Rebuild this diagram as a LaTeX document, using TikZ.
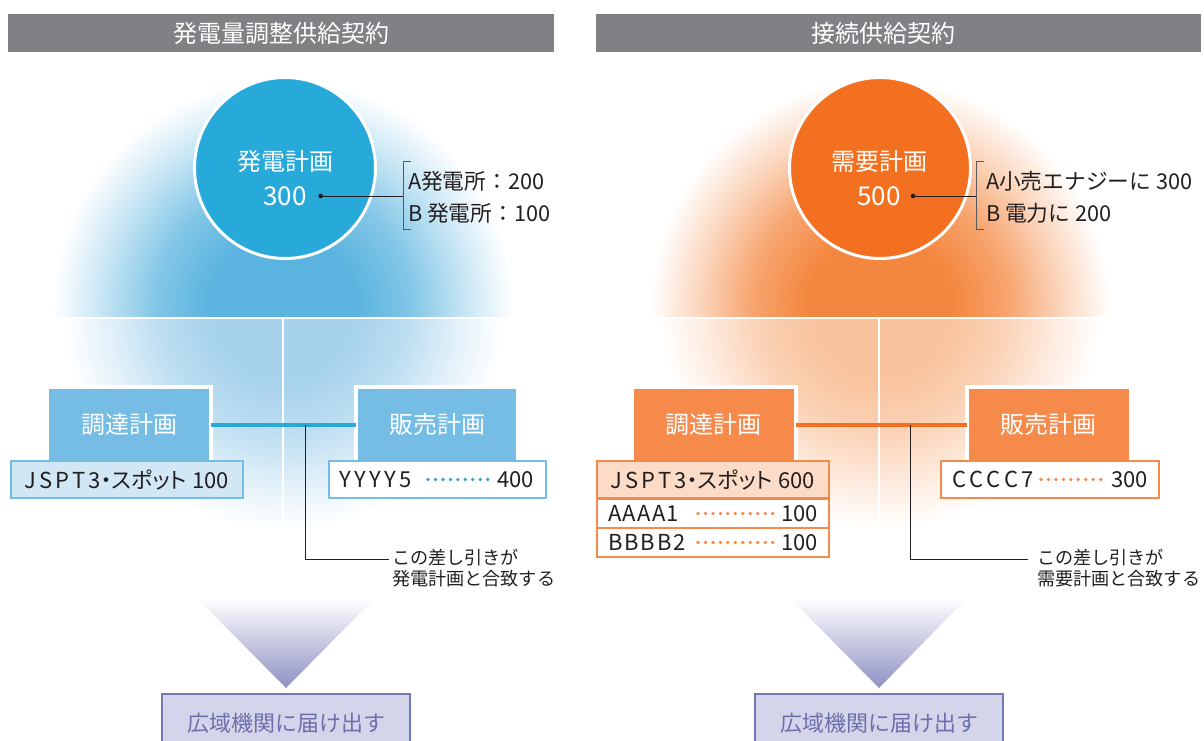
\documentclass[tikz,border=0pt]{standalone}
\usepackage{fontspec}
\setmainfont{Noto Sans CJK JP}
\newfontfamily\pfont[RawFeature=+palt]{Noto Sans CJK JP}
\usetikzlibrary{calc}
\definecolor{hdr}{HTML}{808184}
\definecolor{ink}{HTML}{231F20}
\definecolor{brk}{HTML}{58595B}
\definecolor{bcirc}{HTML}{27A9DA}
\definecolor{bbox}{HTML}{75BDE4}
\definecolor{blight}{HTML}{D2E7F5}
\definecolor{bline}{HTML}{29A9D9}
\definecolor{bglow}{HTML}{5AB4DF}
\definecolor{bglowl}{HTML}{A6D2EC}
\colorlet{bglowa}{bglow!75!white}
\colorlet{bglowb}{bglow!32!white}
\colorlet{bglowla}{bglowl!75!white}
\colorlet{bglowlb}{bglowl!32!white}
\definecolor{ocirc}{HTML}{F37021}
\definecolor{obox}{HTML}{F58A4B}
\definecolor{olight}{HTML}{FCDCC6}
\definecolor{oline}{HTML}{F37021}
\definecolor{oglow}{HTML}{F4873F}
\definecolor{oglowl}{HTML}{F9C39D}
\colorlet{oglowa}{oglow!75!white}
\colorlet{oglowb}{oglow!32!white}
\colorlet{oglowla}{oglowl!75!white}
\colorlet{oglowlb}{oglowl!32!white}
\definecolor{pfill}{HTML}{D4D5EA}
\definecolor{pdraw}{HTML}{7677B5}
\definecolor{ptext}{HTML}{6D6FAA}
\definecolor{ptri}{HTML}{8F90C3}
\pgfdeclareradialshading{bup}{\pgfpoint{0bp}{0bp}}{color(0bp)=(bglow); color(8bp)=(bglow); color(14bp)=(bglowa); color(20bp)=(bglowb); color(25bp)=(white); color(50bp)=(white)}
\pgfdeclareradialshading{blow}{\pgfpoint{0bp}{0bp}}{color(0bp)=(bglowl); color(8bp)=(bglowl); color(14bp)=(bglowla); color(20bp)=(bglowlb); color(25bp)=(white); color(50bp)=(white)}
\pgfdeclareradialshading{oup}{\pgfpoint{0bp}{0bp}}{color(0bp)=(oglow); color(8bp)=(oglow); color(14bp)=(oglowa); color(20bp)=(oglowb); color(25bp)=(white); color(50bp)=(white)}
\pgfdeclareradialshading{olow}{\pgfpoint{0bp}{0bp}}{color(0bp)=(oglowl); color(8bp)=(oglowl); color(14bp)=(oglowla); color(20bp)=(oglowlb); color(25bp)=(white); color(50bp)=(white)}
\newcommand{\lsp}{\hspace{2.2pt}}
\newcommand{\lsq}{\hspace{2.5pt}}
\begin{document}
\begin{tikzpicture}[x=0.75pt,y=-0.75pt,
  every node/.style={inner sep=0pt, outer sep=0pt, text=ink},
  hdrbar/.style={fill=hdr, minimum height=28.5pt, text=white, font=\fontsize{18}{20}\selectfont},
  plancircle/.style={circle, draw=white, line width=2.25pt, minimum size=135.75pt},
  circtext/.style={text=white, font=\fontsize{18}{20}\selectfont},
  circnum/.style={text=white, font=\fontsize{19.5}{21}\selectfont},
  dotmark/.style={circle, fill=ink, minimum size=3.5pt},
  brtext/.style={anchor=west, font=\fontsize{16.3}{18}\selectfont},
  brack/.style={draw=brk, line width=0.75pt},
  planbox/.style={draw=white, line width=3pt, text=white, minimum height=56.25pt, font=\fontsize{18}{20}\selectfont},
  rowbox/.style={line width=1.5pt, minimum height=27.75pt, font=\fontsize{16.5}{18}\selectfont},
  rowtext/.style={font=\fontsize{16.5}{18}\selectfont},
  link/.style={line width=3pt},
  callout/.style={draw=ink, line width=0.75pt},
  leader/.style={line width=2.8pt, line cap=round, dash pattern=on 0pt off 5.6pt},
  notetext/.style={anchor=west, align=left, font=\fontsize{13.6}{15.8}\selectfont},
  submitbox/.style={fill=pfill, draw=pdraw, line width=1.5pt, text=ptext, minimum width=186pt, minimum height=44pt, font=\fontsize{16.5}{18}\selectfont}
]
\useasboundingbox[fill=white] (0,0) rectangle (1204,740);

% ---------- glows ----------
\begin{scope}
  \clip (30,55) rectangle (560,316);
  \shade[shading=bup] (283,309) circle[radius=172.5pt];
\end{scope}
\begin{scope}
  \clip (30,319) rectangle (560,560);
  \shade[shading=blow] (283,309) circle[radius=165pt];
\end{scope}
\begin{scope}
  \clip (620,55) rectangle (1150,316);
  \shade[shading=oup] (880,309) circle[radius=172.5pt];
\end{scope}
\begin{scope}
  \clip (620,319) rectangle (1150,560);
  \shade[shading=olow] (880,309) circle[radius=165pt];
\end{scope}
\draw[white, line width=1.5pt] (283,318) -- (283,545);
\draw[white, line width=1.5pt] (879,318) -- (879,545);

% ---------- headers ----------
\node[hdrbar, minimum width=409.5pt] (hL) at (281,33) {発電量調整供給契約};
\node[hdrbar, minimum width=453.75pt] (hR) at (898.5,33) {接続供給契約\hspace*{22.5pt}};

% ---------- left panel ----------
\node[plancircle, fill=bcirc] (gC) at (285,168) {};
\node[circtext] (gT) at (285,161) {発電計画};
\node[circnum] (gV) at (285,196) {300};
\node[dotmark] (gD) at (320.7,196) {};
\coordinate (gK) at (403,196);
\draw[callout] (gD) -- (gK);
\draw[brack] (411,161) -- (403,161) -- (403,229) -- (411,229);
\node[brtext] (gA) at (408,181) {A発電所：200};
\node[brtext] (gB) at (408,213) {B 発電所：100};

\node[planbox, fill=bbox, minimum width=123pt] (gP) at (129,424.5) {調達計画};
\node[planbox, fill=bbox, minimum width=121.5pt] (gS) at (437,424.5) {販売計画};
\draw[link, bline] (gP.east) -- (gS.west);
\coordinate (gJ) at (305,424.5);
\coordinate (gE) at (389,559);
\draw[callout] (gJ) |- (gE);
\node[notetext] (gN) at (392,568.5) {この差し引きが\\発電計画と合致する};

\node[rowbox, draw=bbox, fill=blight, minimum width=174pt] (gJS) at (127,479.5)
  {J\lsp S\lsp P\lsp T\lsp 3{\pfont ・スポット}\hspace{4pt}100};
\node[rowbox, draw=bbox, fill=white, minimum width=162.75pt] (gYY) at (437.5,479.5) {};
\node[rowtext, anchor=west] (gYl) at (339,479.5) {Y\lsq Y\lsq Y\lsq Y\lsq 5};
\node[rowtext, anchor=east] (gYn) at (534,479.5) {400};
\draw[leader, bline] (428,479.5) -- (488,479.5);

\shade[top color=white, bottom color=ptri] (197,598) -- (375,598) -- (286,688) -- cycle;
\node[submitbox] (gR) at (286,723) {広域機関に届け出す};

% ---------- right panel ----------
\node[plancircle, fill=ocirc] (oC) at (880,168) {};
\node[circtext] (oT) at (879,161) {需要計画};
\node[circnum] (oV) at (879,196) {500};
\node[dotmark] (oD) at (913,196) {};
\coordinate (oK) at (976,196);
\draw[callout] (oD) -- (oK);
\draw[brack] (984,161) -- (976,161) -- (976,229) -- (984,229);
\node[brtext] (oA) at (986,181) {A小売エナジーに 300};
\node[brtext] (oB) at (986,213) {B 電力に 200};

\node[planbox, fill=obox, minimum width=123pt] (oP) at (713.5,424.5) {調達計画};
\node[planbox, fill=obox, minimum width=123pt] (oS) at (1048.5,424.5) {販売計画};
\draw[link, oline] (oP.east) -- (oS.west);
\coordinate (oJ) at (910,424.5);
\coordinate (oE) at (1028,559);
\draw[callout] (oJ) |- (oE);
\node[notetext] (oN) at (1037,568.5) {この差し引きが\\需要計画と合致する};

\node[rowbox, draw=obox, fill=olight, minimum width=174pt] (oJS) at (713,479.5)
  {J\lsp S\lsp P\lsp T\lsp 3{\pfont ・スポット}\hspace{4pt}600};
\node[rowbox, draw=obox, fill=white, minimum width=174pt, minimum height=21.75pt] (oAA) at (713,513.5) {};
\node[rowbox, draw=obox, fill=white, minimum width=174pt, minimum height=21.75pt] (oBB) at (713,542.5) {};
\node[rowtext, anchor=west] (oAl) at (608,513.5) {A\hspace{1pt}A\hspace{1pt}A\hspace{1pt}A\hspace{1pt}1};
\node[rowtext, anchor=east] (oAn) at (818,513.5) {100};
\node[rowtext, anchor=west] (oBl) at (608,542.5) {B\hspace{1.5pt}B\hspace{1.5pt}B\hspace{1.5pt}B\hspace{1.5pt}2};
\node[rowtext, anchor=east] (oBn) at (818,542.5) {100};
\draw[leader, obox] (698,513.5) -- (773,513.5);
\draw[leader, obox] (698,542.5) -- (773,542.5);

\node[rowbox, draw=obox, fill=white, minimum width=163.5pt] (oCC) at (1050,479.5) {};
\node[rowtext, anchor=west] (oCl) at (952,479.5) {C\lsq C\lsq C\lsq C\lsq 7};
\node[rowtext, anchor=east] (oCn) at (1148,479.5) {300};
\draw[leader, obox] (1041,479.5) -- (1101,479.5);

\shade[top color=white, bottom color=ptri] (790,598) -- (967,598) -- (879,688) -- cycle;
\node[submitbox] (oR) at (879,723) {広域機関に届け出す};
\end{tikzpicture}
\end{document}
